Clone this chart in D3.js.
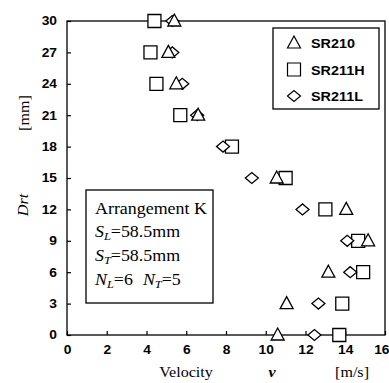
<!DOCTYPE html>
<html lang="en">
<head>
    <meta charset="UTF-8">
    <title>Drt vs Velocity</title>
    <script src="https://d3js.org/d3.v7.min.js"></script>
    <style>
        body { margin: 0; background: #fff; }
        .tick text { font-family: "Liberation Sans", Arial, sans-serif; font-weight: bold; font-size: 12px; }
        .serif { font-family: "Liberation Serif", "Times New Roman", serif; }
    </style>
</head>
<body>
    <svg width="389" height="383" id="chart"></svg>

    <script>
        // depth positions (mm)
        const drt = [0, 3, 6, 9, 12, 15, 18, 21, 24, 27, 30];
        // velocity readings per series (m/s), null where no point
        const sr210  = [10.6, 11.05, 13.15, 15.15, 14.05, 10.55, null, 6.6, 5.5, 5.1, 5.4];
        const sr211H = [13.7, 13.85, 14.9, 14.65, 13.0, 11.0, 8.3, 5.7, 4.5, 4.2, 4.4];
        const sr211L = [12.45, 12.65, 14.25, 14.1, 11.85, 9.3, 7.85, 6.55, 5.8, 5.3, 5.3];
        const seriesNames = ["SR210", "SR211H", "SR211L"];
        const xTicks = [0, 2, 4, 6, 8, 10, 12, 14, 16];
        const yTicks = [0, 3, 6, 9, 12, 15, 18, 21, 24, 27, 30];

        const margin = { top: 21, right: 4, bottom: 48, left: 67 };
        const width = 389 - margin.left - margin.right;
        const height = 383 - margin.top - margin.bottom;
        const stretch = 1.15; // scanned type is a bit wide

        const svg = d3.select("#chart")
            .append("g")
            .attr("transform", `translate(${margin.left},${margin.top})`);

        const x = d3.scaleLinear().domain([0, 16]).range([0, width]);
        const y = d3.scaleLinear().domain([0, 30]).range([height, 0]);

        //frame
        svg.append("rect")
            .attr("width", width).attr("height", height)
            .attr("fill", "none").attr("stroke", "#000").attr("stroke-width", 1.3);

        //axes with inward ticks
        const xAxis = svg.append("g")
            .attr("transform", `translate(0,${height})`)
            .call(d3.axisBottom(x).tickValues(xTicks).tickSizeInner(-4).tickSizeOuter(0).tickPadding(10));
        const yAxis = svg.append("g")
            .call(d3.axisLeft(y).tickValues(yTicks).tickSizeInner(-4).tickSizeOuter(0).tickPadding(10));
        [xAxis, yAxis].forEach(a => {
            a.select(".domain").remove();
            a.selectAll("line").attr("stroke-width", 1.2);
        });
        yAxis.selectAll("text")
            .attr("x", -10 / stretch)
            .attr("transform", `scale(${stretch},1)`);
        xAxis.selectAll("text")
            .attr("transform", `scale(${stretch},1)`)
            .attr("x", 0);
        //last label sits at the page edge, keep it inside
        xAxis.selectAll("text").filter(d => d === 16)
            .attr("text-anchor", "end")
            .attr("x", 3.5);

        //marker shapes
        const shapePath = name => name === "SR210" ? "M0,-7L6.5,5H-6.5Z"
            : name === "SR211H" ? "M-6.5,-6.5H6.5V6.5H-6.5Z"
            : "M-6.5,0L0,-5.5L6.5,0L0,5.5Z";

        const series = [
            { name: "SR211H", values: sr211H },
            { name: "SR211L", values: sr211L },
            { name: "SR210", values: sr210 }
        ];
        series.forEach(s => {
            const pts = drt.map((d, i) => ({ d: d, v: s.values[i] })).filter(p => p.v !== null);
            svg.selectAll(null)
                .data(pts)
                .enter().append("path")
                .attr("d", shapePath(s.name))
                .attr("transform", p => `translate(${x(p.v)},${y(p.d)})`)
                .attr("fill", "#fff")
                .attr("stroke", "#000")
                .attr("stroke-width", 1.3);
        });

        //legend
        const legend = svg.append("g").attr("transform", `translate(${273 - margin.left},${28 - margin.top})`);
        legend.append("rect")
            .attr("width", 106).attr("height", 81)
            .attr("fill", "#fff").attr("stroke", "#000").attr("stroke-width", 1.3);
        seriesNames.forEach((n, i) => {
            const row = legend.append("g").attr("transform", `translate(21,${15 + i * 26.5})`);
            row.append("path").attr("d", shapePath(n))
                .attr("fill", "#fff").attr("stroke", "#000").attr("stroke-width", 1.2);
            row.append("text")
                .attr("transform", `translate(17,5) scale(${stretch},1)`)
                .style("font-family", "'Liberation Sans', Arial, sans-serif")
                .style("font-weight", "bold").style("font-size", "12.5px")
                .text(n);
        });

        //arrangement box
        const note = svg.append("g").attr("transform", `translate(${86 - margin.left},${190 - margin.top})`);
        note.append("rect")
            .attr("width", 127).attr("height", 113)
            .attr("fill", "#fff").attr("stroke", "#000").attr("stroke-width", 1.3);
        const noteText = (yy, parts) => {
            const t = note.append("text")
                .attr("class", "serif")
                .attr("transform", `translate(9,${yy}) scale(1.12,1)`)
                .style("font-size", "16px");
            parts.forEach(p => {
                t.append("tspan")
                    .attr("dy", p.dy || 0)
                    .attr("dx", p.dx || 0)
                    .style("font-style", p.it ? "italic" : "normal")
                    .style("font-size", p.sub ? "11px" : "16px")
                    .text(p.t);
            });
        };
        noteText(24, [{ t: "Arrangement K" }]);
        noteText(47, [{ t: "S", it: 1 }, { t: "L", it: 1, sub: 1, dy: 3 }, { t: "=58.5mm", dy: -3 }]);
        noteText(71, [{ t: "S", it: 1 }, { t: "T", it: 1, sub: 1, dy: 3 }, { t: "=58.5mm", dy: -3 }]);
        noteText(95, [{ t: "N", it: 1 }, { t: "L", it: 1, sub: 1, dy: 3 }, { t: "=6", dy: -3 },
            { t: "N", it: 1, dx: 9 }, { t: "T", it: 1, sub: 1, dy: 3 }, { t: "=5", dy: -3 }]);

        //axis titles
        const root = d3.select("#chart");
        const title = (tx, ty, rot, txt, italic) => root.append("text")
            .attr("class", "serif")
            .attr("transform", `translate(${tx},${ty}) rotate(${rot}) scale(${stretch},1)`)
            .attr("text-anchor", "middle")
            .style("font-size", "14px")
            .style("font-style", italic ? "italic" : "normal")
            .text(txt);
        title(186, 377, 0, "Velocity");
        title(272, 377, 0, "v", true).style("font-weight", "bold");
        title(352, 377, 0, "[m/s]");
        title(29, 113, -90, "[mm]");
        title(28, 205, -90, "Drt", true);
    </script>
</body>
</html>
